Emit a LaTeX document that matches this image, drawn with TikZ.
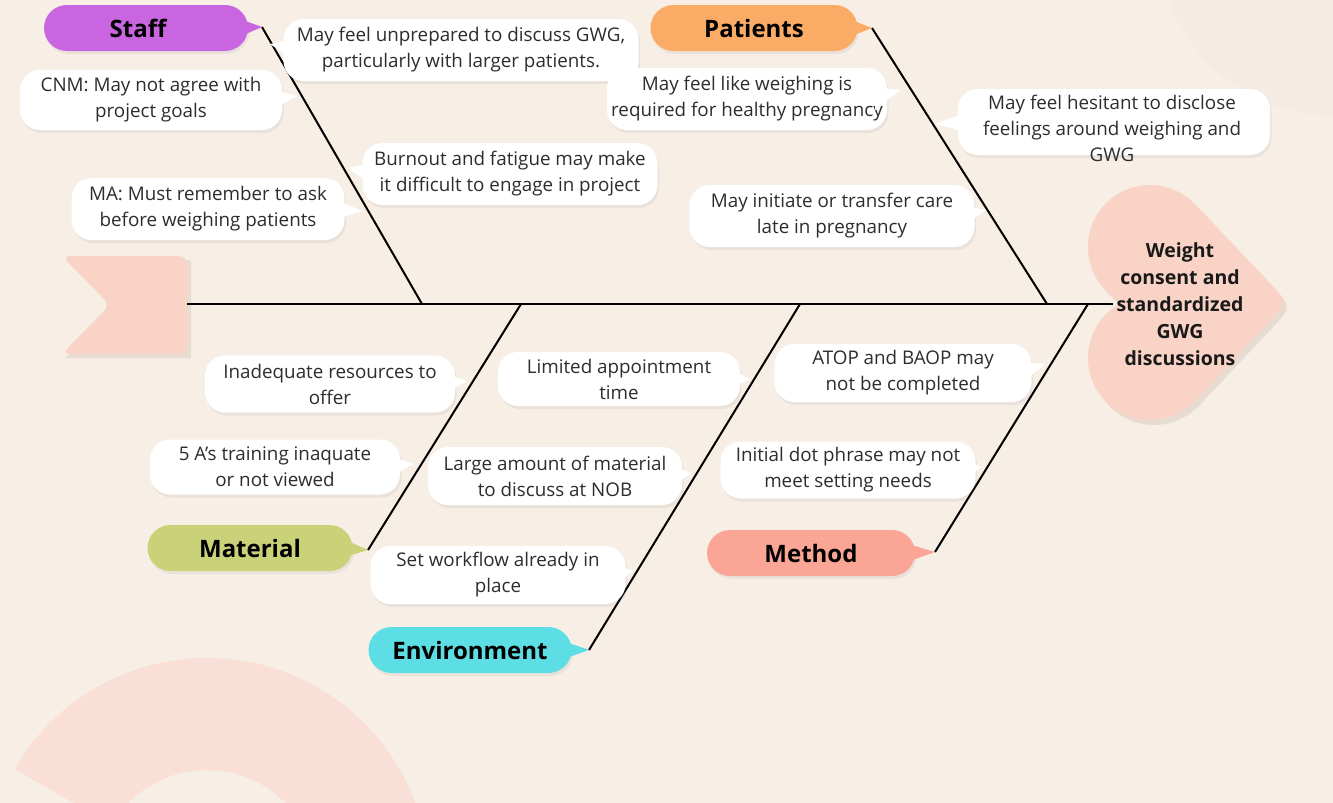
\documentclass[tikz,border=0pt]{standalone}
\usepackage{fontspec}
\setmainfont{Open Sans}
\usetikzlibrary{calc,shadows}

\definecolor{bgc}{RGB}{247,238,229}
\definecolor{bglight}{RGB}{245,235,229}
\definecolor{ringc}{RGB}{249,223,213}
\definecolor{headc}{RGB}{249,211,197}
\definecolor{shadowc}{RGB}{232,219,210}
\definecolor{txtc}{RGB}{45,45,45}
\definecolor{staffc}{RGB}{201,101,224}
\definecolor{patc}{RGB}{250,172,102}
\definecolor{matc}{RGB}{201,210,120}
\definecolor{envc}{RGB}{92,222,228}
\definecolor{methc}{RGB}{250,165,150}

% little speech-bubble tail: node, anchor, inward shift, tip
\newcommand{\ptr}[5][white]{\fill[#1] ($(#2.#3)+(#4,-11)$) -- (#5) -- ($(#2.#3)+(#4,11)$) -- cycle;}

\begin{document}
\begin{tikzpicture}[x=1pt,y=-1pt,
    bubble/.style={rectangle,rounded corners=20pt,fill=white,text=txtc,align=center,inner sep=0pt,
      font=\fontsize{18.8}{26}\selectfont,
      drop shadow={shadow xshift=1.5pt,shadow yshift=-3pt,opacity=0.10}},
    bubtext/.style={text=txtc,align=center,inner sep=0pt,font=\fontsize{18.8}{26}\selectfont},
    catbox/.style={rectangle,rounded corners=23pt,minimum height=46pt,inner sep=0pt,
      font=\fontsize{24}{28}\selectfont\bfseries,
      drop shadow={shadow xshift=1.5pt,shadow yshift=-3pt,opacity=0.10}},
    bone/.style={line width=2pt,black}]
    \useasboundingbox (0,0) rectangle (1333,803);
    \fill[bgc] (0,0) rectangle (1333,803);
    % background decorations
    \fill[bglight] (1333,-60) circle[radius=175];
    \fill[ringc] (207,880) ++(210:222) arc[start angle=210,end angle=360,radius=222]
        -- ++(-112,0) arc[start angle=360,end angle=210,radius=110] -- cycle;

    % tail
    \fill[shadowc] (66,260) -- (191,260) -- (191,358) -- (66,358) -- (114,309) -- cycle;
    \fill[headc,rounded corners=8pt] (62,256) -- (187,256) -- (187,354) -- (62,354) -- (110,305) -- cycle;

    % head
    \begin{scope}[shift={(4,5)}]
        \fill[shadowc] (1150,247) circle[radius=62];
        \fill[shadowc] (1150,358) circle[radius=62];
        \fill[shadowc] (1150,247) -- (1194,203) -- (1268,281) .. controls (1288,302) .. (1268,323) -- (1194,402) -- (1150,358) -- cycle;
    \end{scope}
    \fill[headc] (1150,247) circle[radius=62];
    \fill[headc] (1150,358) circle[radius=62];
    \fill[headc] (1150,247) -- (1194,203) -- (1268,281) .. controls (1288,302) .. (1268,323) -- (1194,402) -- (1150,358) -- cycle;

    % spine and bones
    \coordinate (tail) at (187,304);
    \coordinate (neck) at (1113,304);
    \coordinate (staffroot) at (422,304);
    \coordinate (patroot) at (1047,304);
    \coordinate (matroot) at (521,304);
    \coordinate (envroot) at (800,304);
    \coordinate (methroot) at (1088,304);
    \coordinate (stafftip) at (262,27);
    \coordinate (pattip) at (872,28);
    \coordinate (mattip) at (368,550);
    \coordinate (envtip) at (589,650);
    \coordinate (methtip) at (935,552);

    \draw[bone] (tail) -- (neck);
    \draw[bone] (stafftip) -- (staffroot);
    \draw[bone] (pattip) -- (patroot);
    \draw[bone] (mattip) -- (matroot);
    \draw[bone] (envtip) -- (envroot);
    \draw[bone] (methtip) -- (methroot);

    \node[font=\fontsize{19.5}{27}\selectfont\bfseries,text=black!90,align=center] (head) at (1180,304)
        {Weight\\consent and\\standardized\\GWG\\discussions};

    % categories
    \node[catbox,fill=staffc,minimum width=204pt] (staff) at (146,28) {Staff\hspace*{16pt}};
    \node[catbox,fill=patc,minimum width=207pt] (patients) at (754,28) {Patients};
    \node[catbox,fill=matc,minimum width=205pt] (material) at (250,548) {Material};
    \node[catbox,fill=envc,minimum width=203pt] (environ) at (470,650) {Environment};
    \node[catbox,fill=methc,minimum width=208pt] (method) at (811,553) {Method};
    \ptr[staffc]{staff}{east}{-14}{stafftip}
    \ptr[patc]{patients}{east}{-14}{pattip}
    \ptr[matc]{material}{east}{-14}{mattip}
    \ptr[envc]{environ}{east}{-14}{envtip}
    \ptr[methc]{method}{east}{-14}{methtip}

    % staff causes
    \node[bubble,minimum width=355pt,minimum height=62pt] (unprep) at (461,50)
        {May feel unprepared to discuss GWG,\\particularly with larger patients.};
    \node[bubble,minimum width=262pt,minimum height=60pt] (cnm) at (151,100)
        {CNM: May not agree with\\project goals};
    \node[bubble,minimum width=295pt,minimum height=62pt] (burnout) at (510,174)
        {Burnout and fatigue may make\\it difficult to engage in project};
    \node[bubble,minimum width=273pt,minimum height=62pt] (ma) at (208,209)
        {MA: Must remember to ask\\before weighing patients};
    \coordinate (unpreptip) at (270,44);
    \coordinate (cnmtip) at (297,96);
    \coordinate (burnouttip) at (347,168);
    \coordinate (matip) at (362,211);
    \ptr{unprep}{west}{12}{unpreptip}
    \ptr{cnm}{east}{-12}{cnmtip}
    \ptr{burnout}{west}{12}{burnouttip}
    \ptr{ma}{east}{-12}{matip}

    % patient causes
    \node[bubble,minimum width=280pt,minimum height=62pt] (weighing) at (747,99)
        {May feel like weighing is\\required for healthy pregnancy};
    \node[bubble,minimum width=312pt,minimum height=66pt] (hesitant) at (1114,122) {};
    \node[bubtext] (hesitanttxt) at (1112,128)
        {May feel hesitant to disclose\\feelings around weighing and\\GWG};
    \node[bubble,minimum width=285pt,minimum height=62pt] (initiate) at (832,216)
        {May initiate or transfer care\\late in pregnancy};
    \coordinate (weighingtip) at (901,90);
    \coordinate (hesitanttip) at (935,124);
    \coordinate (initiatetip) at (986,210);
    \ptr{weighing}{east}{-12}{weighingtip}
    \ptr{hesitant}{west}{12}{hesitanttip}
    \ptr{initiate}{east}{-12}{initiatetip}

    % material causes
    \node[bubble,minimum width=250pt,minimum height=57pt] (inadequate) at (330,384)
        {Inadequate resources to\\offer};
    \node[bubble,minimum width=250pt,minimum height=55pt] (fivea) at (275,467)
        {5 A's training inaquate\\or not viewed};
    \coordinate (inadequatetip) at (467,381);
    \coordinate (fiveatip) at (414,464);
    \ptr{inadequate}{east}{-12}{inadequatetip}
    \ptr{fivea}{east}{-12}{fiveatip}

    % environment causes
    \node[bubble,minimum width=242pt,minimum height=54pt] (limited) at (619,379)
        {Limited appointment\\time};
    \node[bubble,minimum width=254pt,minimum height=58pt] (large) at (555,476)
        {Large amount of material\\to discuss at NOB};
    \node[bubble,minimum width=255pt,minimum height=58pt] (workflow) at (498,575)
        {Set workflow already in\\place};
    \coordinate (limitedtip) at (750,379);
    \coordinate (largetip) at (692,473);
    \coordinate (workflowtip) at (633,571);
    \ptr{limited}{east}{-12}{limitedtip}
    \ptr{large}{east}{-12}{largetip}
    \ptr{workflow}{east}{-12}{workflowtip}

    % method causes
    \node[bubble,minimum width=257pt,minimum height=58pt] (atop) at (903,373)
        {ATOP and BAOP may\\not be completed};
    \node[bubble,minimum width=255pt,minimum height=57pt] (initial) at (848,470)
        {Initial dot phrase may not\\meet setting needs};
    \coordinate (atoptip) at (1046,364);
    \coordinate (initialtip) at (981,467);
    \ptr{atop}{east}{-12}{atoptip}
    \ptr{initial}{east}{-12}{initialtip}
\end{tikzpicture}
\end{document}
